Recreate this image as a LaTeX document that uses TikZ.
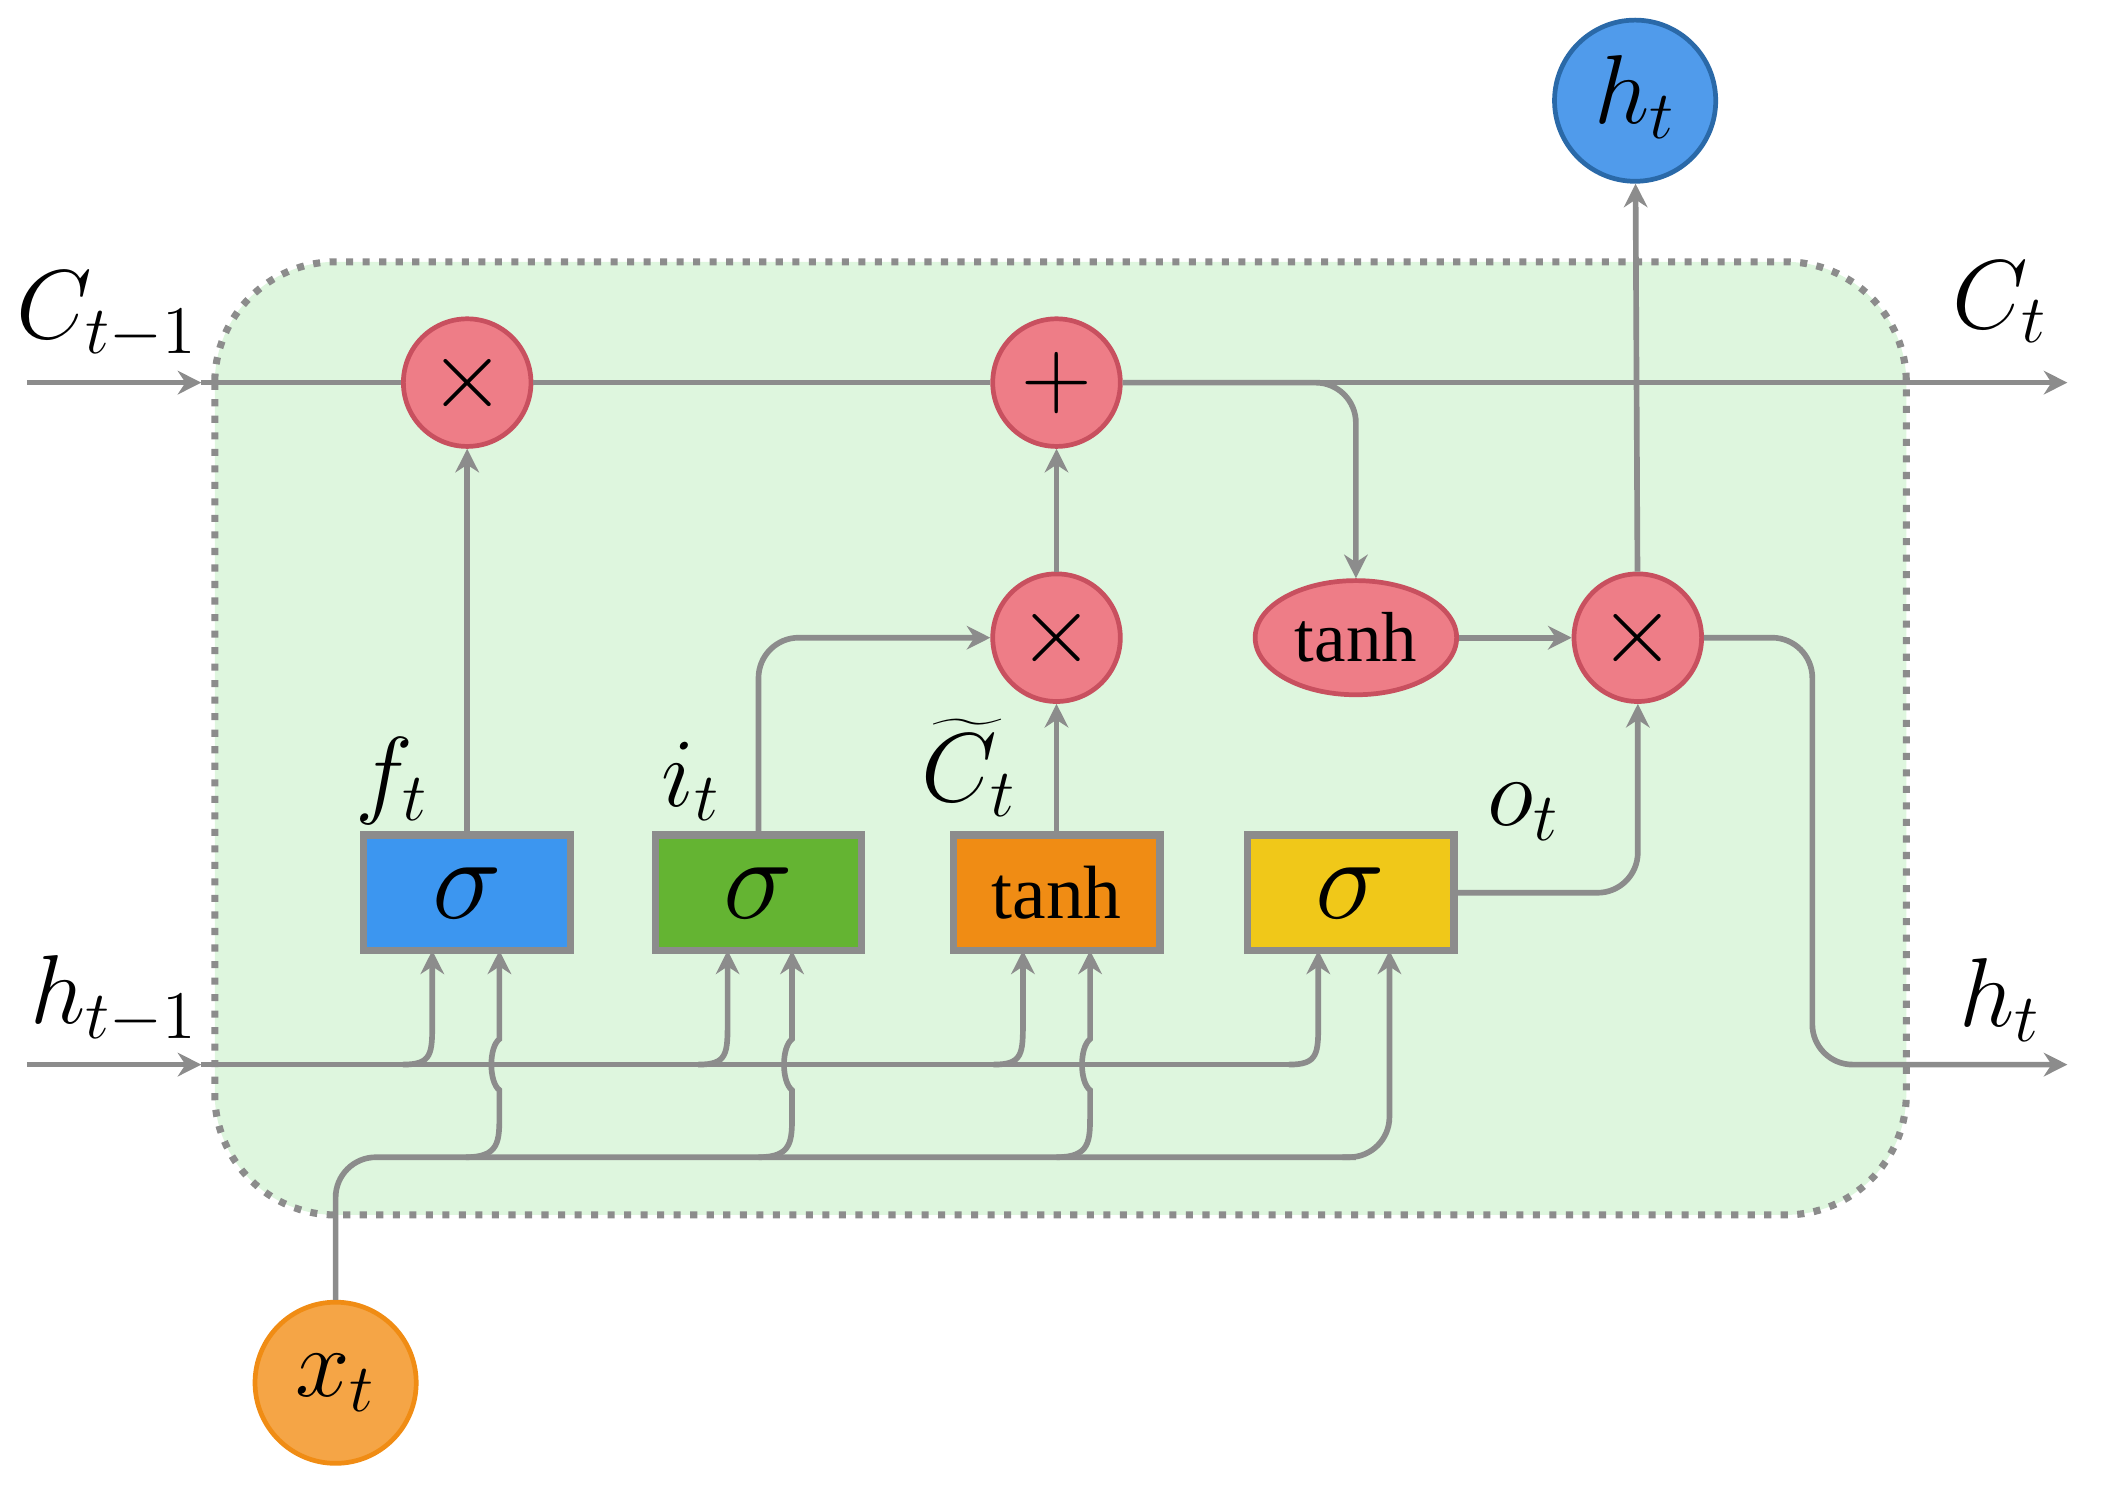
\documentclass[tikz,border=0pt]{standalone}
\usepackage{fontspec}
\setmainfont{Liberation Serif}
\usetikzlibrary{arrows.meta,shapes.geometric}
\definecolor{ln}{RGB}{140,140,140}
\definecolor{bg}{RGB}{222,246,222}
\definecolor{pk}{RGB}{238,125,135}
\definecolor{pkd}{RGB}{200,80,95}
\definecolor{bb}{RGB}{60,150,240}
\definecolor{gb}{RGB}{100,180,50}
\definecolor{ob}{RGB}{240,140,20}
\definecolor{yb}{RGB}{240,200,25}
\definecolor{hc}{RGB}{80,155,235}
\definecolor{xc}{RGB}{245,165,70}
\begin{document}
\begin{tikzpicture}[x=0.01cm,y=-0.01cm,
  ar/.style={draw=ln,line width=1.2pt,-{Stealth[length=5pt,width=5pt]}},
  l/.style={draw=ln,line width=1.2pt},
  op/.style={circle,fill=pk,draw=pkd,line width=1pt,minimum size=0.95cm,inner sep=0pt,font=\fontsize{22}{22}\selectfont},
  box/.style={rectangle,draw=ln,line width=1.5pt,minimum width=1.54cm,minimum height=0.86cm,inner sep=0pt},
  lab/.style={font=\fontsize{22}{22}\selectfont\itshape},
  slab/.style={font=\fontsize{20}{20}\selectfont\itshape}]
\useasboundingbox (0,0) rectangle (1568,1111);
\draw[fill=bg,draw=ln,line width=1.5pt,dotted,rounded corners=0.9cm] (160,195) rectangle (1420,905);
% nodes
\node[op] (mf) at (348,285) {$\times$};
\node[op] (pl) at (787,285) {$+$};
\node[op] (mi) at (787,475) {$\times$};
\node[ellipse,fill=pk,draw=pkd,line width=1pt,minimum width=1.5cm,minimum height=0.85cm,inner sep=0pt,font=\fontsize{15}{15}\selectfont] (th) at (1010,475) {tanh};
\node[op] (mo) at (1220,475) {$\times$};
\node[circle,fill=hc,draw=bb!70!black,line width=1pt,minimum size=1.2cm] (ht) at (1218,75) {};
\node[lab] at (1218,72) {$h_t$};
\node[circle,fill=xc,draw=ob,line width=1pt,minimum size=1.2cm] (xt) at (250,1030) {};
\node[lab] at (250,1030) {$x_t$};
\node[box,fill=bb] (bf) at (348,665) {\fontsize{24}{24}\selectfont$\sigma$};
\node[box,fill=gb] (bi) at (565,665) {\fontsize{24}{24}\selectfont$\sigma$};
\node[box,fill=ob] (bc) at (787,665) {\fontsize{16}{16}\selectfont tanh};
\node[box,fill=yb] (bo) at (1006,665) {\fontsize{24}{24}\selectfont$\sigma$};
% labels
\node[lab] at (80,235) {$C_{t-1}$};
\node[lab] at (1490,225) {$C_t$};
\node[lab] at (85,745) {$h_{t-1}$};
\node[lab] at (1490,745) {$h_t$};
\node[slab] at (292,582) {$f_t$};
\node[slab] at (515,582) {$i_t$};
\node[slab] at (722,572) {$\widetilde{C}_t$};
\node[slab] at (1135,605) {$o_t$};
% cell state
\coordinate (c0) at (20,285); \coordinate (c1) at (150,285); \coordinate (c2) at (1540,285);
\draw[ar] (c0) -- (c1);
\draw[l] (c1) -- (mf);
\draw[l] (mf) -- (pl);
\draw[ar] (pl) -- (c2);
\draw[ar,rounded corners=0.3cm] (pl.east) -| (th.north);
% gates to ops
\draw[ar] (bf) -- (mf);
\draw[ar,rounded corners=0.3cm] (bi.north) |- (mi.west);
\draw[ar] (bc) -- (mi);
\draw[ar] (mi) -- (pl);
\draw[ar] (th) -- (mo);
\draw[ar,rounded corners=0.3cm] (bo.east) -| (mo.south);
\draw[ar] (mo) -- (ht);
\coordinate (h2) at (1540,793);
\draw[ar,rounded corners=0.3cm] (mo.east) -- (1350,475) -- (1350,793) -- (h2);
% h_{t-1} input
\coordinate (h0) at (20,793); \coordinate (h1) at (150,793);
\draw[ar] (h0) -- (h1);
\draw[l] (h1) -- (962,793);
\foreach \xx in {322,542,762,982}{
  \draw[ar] (\xx-22,793) .. controls (\xx,793) and (\xx,785) .. (\xx,760) -- (\xx,708);
}
% x_t input
\draw[l,rounded corners=0.3cm] (xt.north) -- (250,862) -- (1010,862);
\draw[ar,rounded corners=0.3cm] (1000,862) -- (1035,862) -- (1035,708);
\foreach \xx in {372,590,812}{
  \draw[ar] (\xx-25,862) .. controls (\xx,862) and (\xx,850) .. (\xx,830) -- (\xx,812) .. controls (\xx-8,806) and (\xx-8,780) .. (\xx,774) -- (\xx,708);
}
\end{tikzpicture}
\end{document}
